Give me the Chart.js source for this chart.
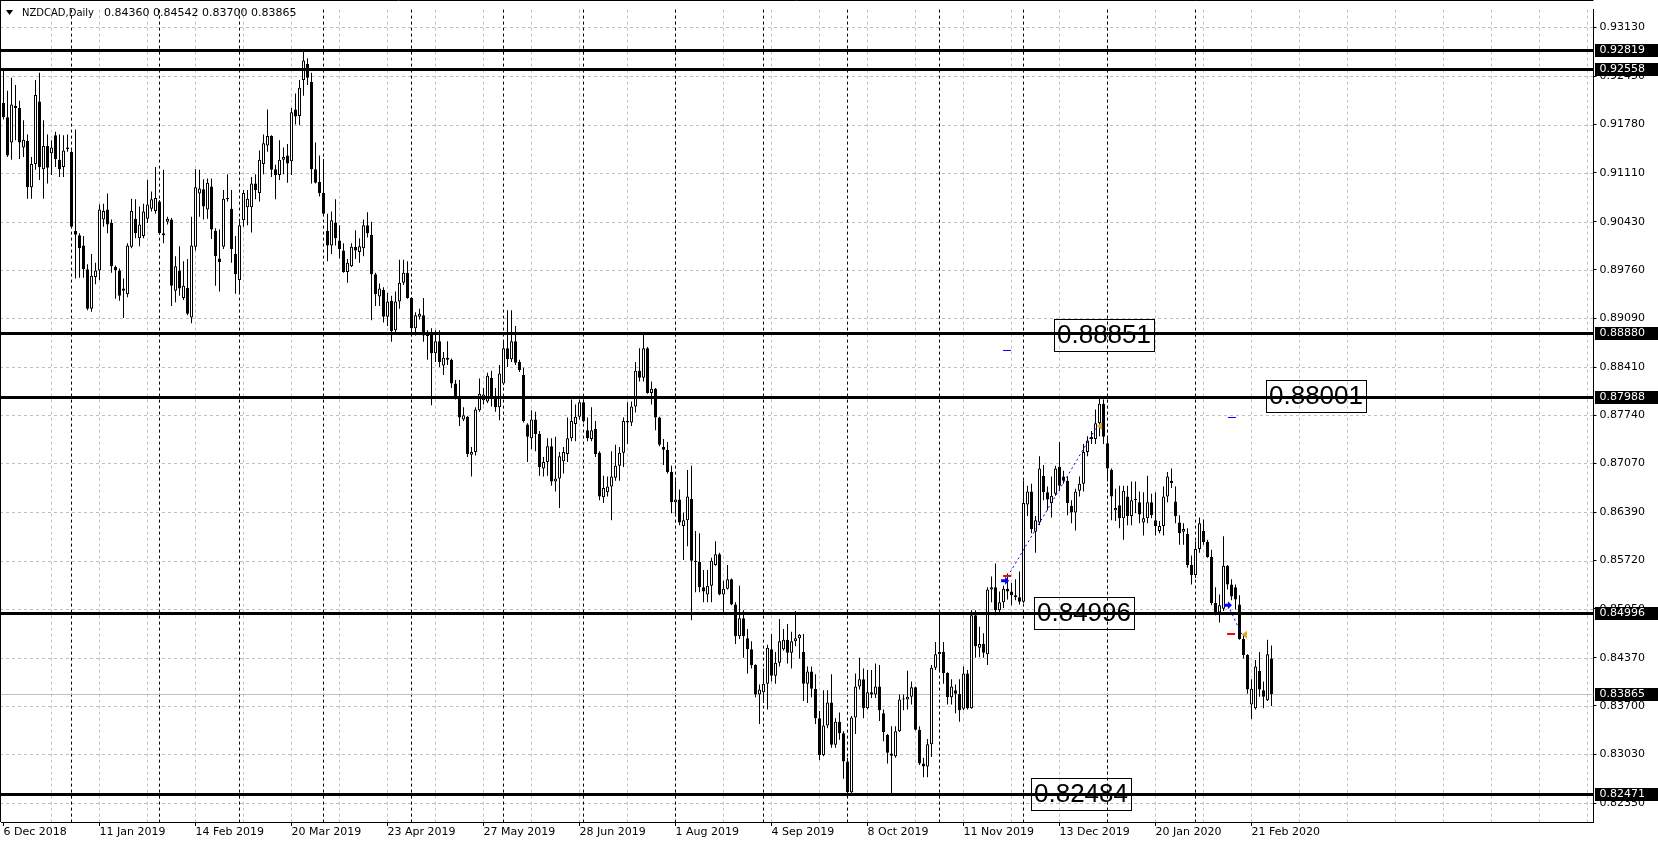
<!DOCTYPE html>
<html>
<head>
<meta charset="utf-8">
<title>NZDCAD,Daily</title>
<script src="https://cdn.jsdelivr.net/npm/chart.js@4.4.0/dist/chart.umd.min.js"></script>
<style>
  html, body { margin: 0; padding: 0; background: #fff; }
  #wrap { width: 1658px; height: 846px; }
</style>
</head>
<body>
<div id="wrap"><canvas id="chart" width="1658" height="846"></canvas></div>
<script>
// ---------- daily candles, 6 Dec 2018 .. 28 Feb 2020 ----------
const open = [
  0.9208, 0.9188, 0.9153, 0.9204, 0.9201, 0.9146, 0.9155, 0.9091, 0.9123, 0.9210,
  0.9116, 0.9148, 0.9138, 0.9163, 0.9129, 0.9119, 0.9146, 0.9140, 0.9030, 0.9024,
  0.9010, 0.8977, 0.8922, 0.8966, 0.8975, 0.9046, 0.9060, 0.9041, 0.8980, 0.8975,
  0.8950, 0.8942, 0.9008, 0.9047, 0.9020, 0.9023, 0.9047, 0.9061, 0.9058, 0.9071,
  0.9027, 0.9043, 0.9046, 0.8947, 0.8975, 0.8937, 0.8951, 0.8910, 0.9008, 0.9082,
  0.9088, 0.9060, 0.9092, 0.9030, 0.8992, 0.9008, 0.9074, 0.9061, 0.8998, 0.8962,
  0.9045, 0.9063, 0.9063, 0.9096, 0.9083, 0.9123, 0.9149, 0.9162, 0.9116, 0.9108,
  0.9129, 0.9135, 0.9127, 0.9199, 0.9190, 0.9240, 0.9262, 0.9237, 0.9116, 0.9098,
  0.9083, 0.9030, 0.9010, 0.9042, 0.9017, 0.9003, 0.8973, 0.8981, 0.9008, 0.9001,
  0.9006, 0.9038, 0.9025, 0.8970, 0.8939, 0.8948, 0.8911, 0.8933, 0.8892, 0.8932,
  0.8958, 0.8972, 0.8937, 0.8895, 0.8911, 0.8913, 0.8885, 0.8887, 0.8860, 0.8877,
  0.8843, 0.8854, 0.8851, 0.8818, 0.8798, 0.8768, 0.8772, 0.8719, 0.8723, 0.8781,
  0.8795, 0.8793, 0.8826, 0.8801, 0.8785, 0.8818, 0.8867, 0.8852, 0.8877, 0.8848,
  0.8830, 0.8761, 0.8742, 0.8768, 0.8748, 0.8700, 0.8709, 0.8731, 0.8682, 0.8686,
  0.8710, 0.8720, 0.8742, 0.8762, 0.8772, 0.8792, 0.8753, 0.8741, 0.8755, 0.8722,
  0.8660, 0.8667, 0.8675, 0.8687, 0.8704, 0.8722, 0.8766, 0.8764, 0.8786, 0.8836,
  0.8826, 0.8867, 0.8805, 0.8811, 0.8771, 0.8730, 0.8726, 0.8695, 0.8653, 0.8657,
  0.8620, 0.8628, 0.8658, 0.8572, 0.8570, 0.8535, 0.8525, 0.8537, 0.8566, 0.8581,
  0.8525, 0.8533, 0.8546, 0.8511, 0.8467, 0.8492, 0.8464, 0.8449, 0.8427, 0.8386,
  0.8389, 0.8401, 0.8449, 0.8412, 0.8430, 0.8449, 0.8462, 0.8444, 0.8460, 0.8464,
  0.8445, 0.8401, 0.8418, 0.8394, 0.8353, 0.8302, 0.8343, 0.8375, 0.8316, 0.8348,
  0.8332, 0.8293, 0.8250, 0.8354, 0.8397, 0.8407, 0.8367, 0.8389, 0.8386, 0.8397,
  0.8360, 0.8330, 0.8304, 0.8300, 0.8335, 0.8379, 0.8379, 0.8383, 0.8396, 0.8337,
  0.8290, 0.8286, 0.8317, 0.8423, 0.8442, 0.8445, 0.8416, 0.8382, 0.8392, 0.8387,
  0.8366, 0.8415, 0.8367, 0.8496, 0.8451, 0.8456, 0.8442, 0.8532, 0.8535, 0.8503,
  0.8514, 0.8533, 0.8529, 0.8524, 0.8521, 0.8515, 0.8650, 0.8668, 0.8612, 0.8625,
  0.8690, 0.8667, 0.8652, 0.8665, 0.8702, 0.8689, 0.8683, 0.8648, 0.8639, 0.8669,
  0.8679, 0.8723, 0.8744, 0.8741, 0.8763, 0.8790, 0.8735, 0.8698, 0.8642, 0.8649,
  0.8631, 0.8661, 0.8634, 0.8658, 0.8653, 0.8625, 0.8631, 0.8653, 0.8628, 0.8613,
  0.8620, 0.8661, 0.8683, 0.8654, 0.8625, 0.8612, 0.8609, 0.8566, 0.8552, 0.8588,
  0.8613, 0.8598, 0.8577, 0.8513, 0.8500, 0.8505, 0.8565, 0.8539, 0.8535, 0.8511,
  0.8463, 0.8441, 0.8372, 0.8367, 0.8419, 0.8392, 0.8378, 0.84360
];
const high = [
  0.9256, 0.9225, 0.9243, 0.9233, 0.9211, 0.9184, 0.9164, 0.9133, 0.9240, 0.9250,
  0.9184, 0.9164, 0.9156, 0.9168, 0.9164, 0.9163, 0.9164, 0.9142, 0.9171, 0.9027,
  0.9023, 0.8984, 0.8998, 0.8986, 0.9067, 0.9068, 0.9082, 0.9046, 0.8982, 0.8978,
  0.8964, 0.9013, 0.9075, 0.9074, 0.9064, 0.9068, 0.9101, 0.9085, 0.9119, 0.9073,
  0.9115, 0.9050, 0.9048, 0.8995, 0.9009, 0.8988, 0.8991, 0.9050, 0.9116, 0.9115,
  0.9102, 0.9103, 0.9103, 0.9034, 0.9032, 0.9087, 0.9109, 0.9087, 0.9023, 0.9047,
  0.9087, 0.9087, 0.9105, 0.9109, 0.9142, 0.9164, 0.9199, 0.9163, 0.9122, 0.9156,
  0.9146, 0.9151, 0.9201, 0.9221, 0.9240, 0.9282, 0.9270, 0.9250, 0.9153, 0.9135,
  0.9130, 0.9054, 0.9057, 0.9074, 0.9038, 0.9013, 0.8991, 0.9013, 0.9031, 0.9020,
  0.9046, 0.9056, 0.9043, 0.8972, 0.8957, 0.8952, 0.8944, 0.8940, 0.8946, 0.8990,
  0.8990, 0.8988, 0.8938, 0.8917, 0.8922, 0.8937, 0.8892, 0.8895, 0.8892, 0.8892,
  0.8862, 0.8877, 0.8853, 0.8823, 0.8823, 0.8785, 0.8773, 0.8730, 0.8785, 0.8825,
  0.8812, 0.8833, 0.8836, 0.8812, 0.8844, 0.8878, 0.8920, 0.8920, 0.8898, 0.8851,
  0.8840, 0.8763, 0.8781, 0.8779, 0.8752, 0.8716, 0.8742, 0.8742, 0.8744, 0.8723,
  0.8730, 0.8771, 0.8796, 0.8789, 0.8796, 0.8796, 0.8771, 0.8785, 0.8766, 0.8724,
  0.8690, 0.8689, 0.8724, 0.8733, 0.8730, 0.8771, 0.8792, 0.8793, 0.8848, 0.8867,
  0.8888, 0.8869, 0.8821, 0.8812, 0.8772, 0.8741, 0.8737, 0.8704, 0.8683, 0.8671,
  0.8639, 0.8698, 0.8704, 0.8613, 0.8610, 0.8559, 0.8559, 0.8576, 0.8599, 0.8583,
  0.8544, 0.8566, 0.8547, 0.8514, 0.8537, 0.8503, 0.8477, 0.8460, 0.8428, 0.8400,
  0.8422, 0.8455, 0.8470, 0.8445, 0.8491, 0.8477, 0.8484, 0.8473, 0.8502, 0.8470,
  0.8470, 0.8425, 0.8425, 0.8414, 0.8363, 0.8392, 0.8392, 0.8414, 0.8353, 0.8361,
  0.8335, 0.8298, 0.8356, 0.8415, 0.8437, 0.8422, 0.8420, 0.8420, 0.8429, 0.8427,
  0.8365, 0.8331, 0.8342, 0.8342, 0.8386, 0.8386, 0.8419, 0.8404, 0.8397, 0.8342,
  0.8298, 0.8324, 0.8427, 0.8459, 0.8497, 0.8459, 0.8417, 0.8407, 0.8400, 0.8407,
  0.8425, 0.8420, 0.8503, 0.8503, 0.8480, 0.8471, 0.8535, 0.8550, 0.8568, 0.8529,
  0.8537, 0.8554, 0.8541, 0.8546, 0.8557, 0.8683, 0.8676, 0.8679, 0.8634, 0.8717,
  0.8705, 0.8675, 0.8689, 0.8704, 0.8737, 0.8697, 0.8689, 0.8656, 0.8672, 0.8689,
  0.8734, 0.8745, 0.8752, 0.8782, 0.8799, 0.8796, 0.8745, 0.8700, 0.8672, 0.8676,
  0.8676, 0.8676, 0.8682, 0.8682, 0.8668, 0.8667, 0.8690, 0.8665, 0.8667, 0.8627,
  0.8675, 0.8695, 0.8700, 0.8675, 0.8635, 0.8624, 0.8617, 0.8579, 0.8599, 0.8632,
  0.8629, 0.8601, 0.8587, 0.8535, 0.8525, 0.8606, 0.8566, 0.8546, 0.8539, 0.8524,
  0.8470, 0.8442, 0.8407, 0.8434, 0.8445, 0.8404, 0.8462, 0.84542
];
const low = [
  0.9185, 0.9133, 0.9129, 0.9156, 0.9130, 0.9133, 0.9075, 0.9075, 0.9115, 0.9101,
  0.9075, 0.9096, 0.9108, 0.9119, 0.9105, 0.9105, 0.9140, 0.9034, 0.8964, 0.8965,
  0.8965, 0.8920, 0.8918, 0.8956, 0.8962, 0.9036, 0.9027, 0.8972, 0.8936, 0.8933,
  0.8909, 0.8938, 0.9006, 0.9020, 0.9009, 0.9020, 0.9041, 0.9057, 0.9054, 0.9025,
  0.9013, 0.9039, 0.8926, 0.8931, 0.8940, 0.8934, 0.8913, 0.8902, 0.9003, 0.9050,
  0.9046, 0.9047, 0.9019, 0.8954, 0.8946, 0.9005, 0.9071, 0.8986, 0.8943, 0.8944,
  0.9036, 0.9038, 0.9028, 0.9074, 0.9071, 0.9109, 0.9140, 0.9105, 0.9074, 0.9101,
  0.9109, 0.9097, 0.9108, 0.9178, 0.9177, 0.9218, 0.9233, 0.9096, 0.9096, 0.9078,
  0.9053, 0.8988, 0.8998, 0.9010, 0.8992, 0.8972, 0.8958, 0.8980, 0.8991, 0.8986,
  0.8995, 0.9021, 0.8906, 0.8926, 0.8926, 0.8903, 0.8898, 0.8876, 0.8887, 0.8922,
  0.8955, 0.8936, 0.8885, 0.8885, 0.8907, 0.8876, 0.8851, 0.8788, 0.8848, 0.8841,
  0.8830, 0.8844, 0.8812, 0.8796, 0.8759, 0.8766, 0.8716, 0.8689, 0.8718, 0.8779,
  0.8789, 0.8791, 0.8786, 0.8779, 0.8767, 0.8816, 0.8841, 0.8848, 0.8844, 0.8834,
  0.8764, 0.8709, 0.8727, 0.8724, 0.8690, 0.8689, 0.8690, 0.8676, 0.8668, 0.8645,
  0.8693, 0.8709, 0.8738, 0.8738, 0.8768, 0.8764, 0.8738, 0.8738, 0.8716, 0.8656,
  0.8652, 0.8661, 0.8628, 0.8683, 0.8683, 0.8702, 0.8734, 0.8759, 0.8778, 0.8821,
  0.8821, 0.8804, 0.8789, 0.8753, 0.8731, 0.8705, 0.8693, 0.8638, 0.8634, 0.8621,
  0.8573, 0.8592, 0.8489, 0.8528, 0.8528, 0.8514, 0.8514, 0.8514, 0.8565, 0.8524,
  0.8497, 0.8532, 0.8510, 0.8456, 0.8463, 0.8437, 0.8415, 0.8422, 0.8382, 0.8345,
  0.8374, 0.8365, 0.8404, 0.8401, 0.8425, 0.8447, 0.8429, 0.8422, 0.8453, 0.8436,
  0.8377, 0.8374, 0.8382, 0.8345, 0.8295, 0.8300, 0.8339, 0.8312, 0.8312, 0.8323,
  0.8269, 0.8245, 0.8246, 0.8331, 0.8393, 0.8353, 0.8365, 0.8381, 0.8381, 0.8349,
  0.8321, 0.8290, 0.8246, 0.8298, 0.8334, 0.8364, 0.8365, 0.8372, 0.8336, 0.8288,
  0.8271, 0.8271, 0.8299, 0.8420, 0.8420, 0.8401, 0.8372, 0.8372, 0.8360, 0.8348,
  0.8364, 0.8365, 0.8366, 0.8437, 0.8438, 0.8437, 0.8427, 0.8514, 0.8496, 0.8500,
  0.8506, 0.8518, 0.8510, 0.8517, 0.8511, 0.8513, 0.8634, 0.8610, 0.8583, 0.8621,
  0.8656, 0.8642, 0.8632, 0.8662, 0.8669, 0.8679, 0.8635, 0.8624, 0.8614, 0.8661,
  0.8668, 0.8717, 0.8734, 0.8734, 0.8745, 0.8734, 0.8682, 0.8628, 0.8627, 0.8617,
  0.8601, 0.8621, 0.8621, 0.8638, 0.8624, 0.8607, 0.8624, 0.8631, 0.8607, 0.8610,
  0.8607, 0.8653, 0.8673, 0.8624, 0.8594, 0.8594, 0.8562, 0.8539, 0.8548, 0.8583,
  0.8594, 0.8576, 0.8510, 0.8496, 0.8486, 0.8502, 0.8532, 0.8517, 0.8504, 0.8462,
  0.8436, 0.8387, 0.8352, 0.8365, 0.8383, 0.8367, 0.8377, 0.83700
];
const close = [
  0.9188, 0.9135, 0.9206, 0.9201, 0.9153, 0.9157, 0.9091, 0.9123, 0.9219, 0.9119,
  0.9148, 0.9118, 0.9146, 0.9130, 0.9116, 0.9142, 0.9144, 0.9036, 0.9025, 0.9006,
  0.8977, 0.8922, 0.8968, 0.8975, 0.9060, 0.9058, 0.9039, 0.8981, 0.8976, 0.8940,
  0.8947, 0.9010, 0.9058, 0.9027, 0.9039, 0.9057, 0.9067, 0.9074, 0.9076, 0.9027,
  0.9024, 0.9047, 0.8954, 0.8981, 0.8950, 0.8954, 0.8915, 0.9010, 0.9091, 0.9089,
  0.9064, 0.9097, 0.9032, 0.8995, 0.8987, 0.9075, 0.9076, 0.9005, 0.8970, 0.9038,
  0.9083, 0.9075, 0.9096, 0.9087, 0.9129, 0.9152, 0.9162, 0.9115, 0.9108, 0.9129,
  0.9133, 0.9124, 0.9195, 0.9189, 0.9229, 0.9267, 0.9243, 0.9116, 0.9097, 0.9083,
  0.9054, 0.9010, 0.9045, 0.9020, 0.9005, 0.8973, 0.8986, 0.9008, 0.9003, 0.9009,
  0.9038, 0.9027, 0.8970, 0.8942, 0.8950, 0.8911, 0.8932, 0.8891, 0.8932, 0.8958,
  0.8972, 0.8937, 0.8895, 0.8913, 0.8915, 0.8885, 0.8884, 0.8860, 0.8877, 0.8848,
  0.8854, 0.8851, 0.8818, 0.8800, 0.8771, 0.8774, 0.8720, 0.8723, 0.8782, 0.8804,
  0.8803, 0.8829, 0.8799, 0.8785, 0.8832, 0.8867, 0.8852, 0.8877, 0.8847, 0.8837,
  0.8766, 0.8744, 0.8768, 0.8748, 0.8702, 0.8709, 0.8731, 0.8682, 0.8686, 0.8717,
  0.8723, 0.8742, 0.8766, 0.8772, 0.8792, 0.8766, 0.8742, 0.8753, 0.8720, 0.8661,
  0.8673, 0.8675, 0.8689, 0.8704, 0.8722, 0.8766, 0.8764, 0.8786, 0.8836, 0.8826,
  0.8867, 0.8805, 0.8811, 0.8771, 0.8733, 0.8726, 0.8695, 0.8653, 0.8657, 0.8625,
  0.8628, 0.8661, 0.8572, 0.8570, 0.8535, 0.8529, 0.8537, 0.8572, 0.8581, 0.8525,
  0.8533, 0.8546, 0.8511, 0.8467, 0.8492, 0.8467, 0.8449, 0.8427, 0.8386, 0.8393,
  0.8401, 0.8451, 0.8412, 0.8430, 0.8460, 0.8462, 0.8444, 0.8460, 0.8464, 0.8469,
  0.8401, 0.8418, 0.8394, 0.8353, 0.8302, 0.8343, 0.8375, 0.8316, 0.8348, 0.8332,
  0.8293, 0.8250, 0.8354, 0.8397, 0.8407, 0.8367, 0.8389, 0.8386, 0.8397, 0.8364,
  0.8334, 0.8305, 0.8301, 0.8335, 0.8379, 0.8380, 0.8383, 0.8396, 0.8337, 0.8290,
  0.8286, 0.8317, 0.8423, 0.8442, 0.8445, 0.8416, 0.8382, 0.8397, 0.8387, 0.8364,
  0.8415, 0.8367, 0.8496, 0.8453, 0.8456, 0.8444, 0.8532, 0.8535, 0.8503, 0.8514,
  0.8533, 0.8529, 0.8524, 0.8521, 0.8515, 0.8652, 0.8668, 0.8616, 0.8628, 0.8700,
  0.8667, 0.8657, 0.8662, 0.8700, 0.8676, 0.8683, 0.8652, 0.8639, 0.8668, 0.8679,
  0.8723, 0.8739, 0.8741, 0.8763, 0.8790, 0.8744, 0.8700, 0.8661, 0.8645, 0.8631,
  0.8669, 0.8634, 0.8656, 0.8656, 0.8636, 0.8631, 0.8653, 0.8635, 0.8620, 0.8620,
  0.8661, 0.8689, 0.8680, 0.8634, 0.8610, 0.8616, 0.8566, 0.8552, 0.8588, 0.8624,
  0.8598, 0.8577, 0.8513, 0.8500, 0.8510, 0.8565, 0.8539, 0.8522, 0.8518, 0.8463,
  0.8441, 0.8393, 0.8394, 0.8425, 0.8393, 0.8383, 0.8442, 0.83865
];

// ---------- axes ----------
const dateTickIdx = [0, 24, 48, 72, 96, 120, 144, 168, 192, 216, 240, 264, 288, 312];
const dateTickText = [
  "6 Dec 2018", "11 Jan 2019", "14 Feb 2019", "20 Mar 2019", "23 Apr 2019",
  "27 May 2019", "28 Jun 2019", "1 Aug 2019", "4 Sep 2019", "8 Oct 2019",
  "11 Nov 2019", "13 Dec 2019", "20 Jan 2020", "21 Feb 2020"
];
const monthStartIdx = [17, 39, 59, 80, 102, 125, 145, 168, 190, 211, 234, 255, 276, 298];
const priceTicks = [
  0.82350, 0.83030, 0.83700, 0.84370, 0.85050, 0.85720, 0.86390, 0.87070, 0.87740,
  0.88410, 0.89090, 0.89760, 0.90430, 0.91110, 0.91780, 0.92450, 0.93130
];
const Y_MIN = 0.82088;
const Y_MAX = 0.93377;
const SLOTS = 398; // bar slots across the window (chart shift on the right)

// ---------- objects on the chart ----------
const levelPrices = [0.92819, 0.92558, 0.88880, 0.87988, 0.84996, 0.82471];
const bidPrice = 0.83865;
const noteText = ["0.88851", "0.88001", "0.84996", "0.82484"];
const noteBar = [262.5, 315.5, 257.5, 256.75];
const notePrice = [0.88851, 0.88001, 0.84996, 0.82484];

const tradeOpenBar = [250.4, 306.1];
const tradeOpenPrice = [0.8544, 0.8510];
const tradeCloseBar = [273.4, 309.6];
const tradeClosePrice = [0.8759, 0.8469];
const stopBar = [250.9, 306.9];
const stopPrice = [0.8550, 0.8470];
const targetBar = [250.9, 307.1];
const targetPrice = [0.8865, 0.8771];

const FONT = '"DejaVu Sans", sans-serif';
Chart.defaults.font.family = FONT;
Chart.defaults.font.size = 11;
Chart.defaults.color = "#000";

const slotLabels = Array.from({ length: SLOTS }, (_, i) => i);
const tickTextAt = {};
dateTickIdx.forEach((idx, k) => { tickTextAt[idx] = dateTickText[k]; });
const bodyColor = open.map((o, i) => (close[i] >= o ? "#ffffff" : "#000000"));

function hLine(ctx, x0, x1, py) {
  ctx.beginPath(); ctx.moveTo(x0, py); ctx.lineTo(x1, py); ctx.stroke();
}
function vLine(ctx, px, y0, y1) {
  ctx.beginPath(); ctx.moveTo(px, y0); ctx.lineTo(px, y1); ctx.stroke();
}

// ---------- MT4 look: grid, separators, levels, labels ----------
const mt4Plugin = {
  id: "mt4",
  beforeDraw(chart) {
    const { ctx, width, height } = chart;
    ctx.save();
    ctx.fillStyle = "#fff";
    ctx.fillRect(0, 0, width, height);
    ctx.restore();
  },
  beforeDatasetsDraw(chart) {
    const { ctx, chartArea: a, scales: { x, y } } = chart;
    ctx.save();
    ctx.lineWidth = 1;
    ctx.setLineDash([3, 3]);
    ctx.strokeStyle = "#c0c0c0";
    priceTicks.forEach((p) => hLine(ctx, 0, a.right, Math.round(y.getPixelForValue(p)) + 0.5));
    for (let i = 12; i < SLOTS; i += 12) {
      vLine(ctx, Math.floor(x.getPixelForValue(i)) + 0.5, a.top, a.bottom);
    }
    ctx.strokeStyle = "#000";
    monthStartIdx.forEach((i) => vLine(ctx, Math.floor(x.getPixelForValue(i)) + 0.5, a.top, a.bottom));
    ctx.setLineDash([]);
    ctx.strokeStyle = "#c0c0c0";
    hLine(ctx, 0, a.right, Math.round(y.getPixelForValue(bidPrice)) + 0.5);
    ctx.restore();
  },
  afterDatasetsDraw(chart) {
    const { ctx, chartArea: a, scales: { x, y } } = chart;
    ctx.save();
    // horizontal levels
    ctx.strokeStyle = "#000";
    ctx.lineWidth = 3;
    levelPrices.forEach((p) => hLine(ctx, 0, a.right, Math.round(y.getPixelForValue(p)) + 0.5));

    // text notes
    ctx.font = '26px "Liberation Sans", Arial, sans-serif';
    ctx.textBaseline = "middle";
    ctx.lineWidth = 1;
    noteText.forEach((t, k) => {
      const left = Math.round(x.getPixelForValue(noteBar[k]));
      const cy = Math.round(y.getPixelForValue(notePrice[k]));
      const w = Math.ceil(ctx.measureText(t).width) + 6;
      ctx.strokeStyle = "#000";
      ctx.strokeRect(left + 0.5, cy - 16 + 0.5, w, 32);
      ctx.fillStyle = "#000";
      ctx.fillText(t, left + 3, cy + 1);
    });

    // trades
    ctx.lineWidth = 1;
    ctx.strokeStyle = "#0000ff";
    ctx.setLineDash([2, 3]);
    tradeOpenBar.forEach((b, k) => {
      ctx.beginPath();
      ctx.moveTo(x.getPixelForValue(b), y.getPixelForValue(tradeOpenPrice[k]));
      ctx.lineTo(x.getPixelForValue(tradeCloseBar[k]), y.getPixelForValue(tradeClosePrice[k]));
      ctx.stroke();
    });
    ctx.setLineDash([]);
    targetBar.forEach((b, k) => {
      const px = x.getPixelForValue(b), py = Math.round(y.getPixelForValue(targetPrice[k])) + 0.5;
      hLine(ctx, px - 4, px + 4, py);
    });
    ctx.strokeStyle = "#ff0000";
    ctx.lineWidth = 2;
    stopBar.forEach((b, k) => {
      const px = x.getPixelForValue(b), py = Math.round(y.getPixelForValue(stopPrice[k]));
      hLine(ctx, px - 4, px + 4, py);
    });
    ctx.fillStyle = "#0000ff";
    tradeOpenBar.forEach((b, k) => {
      const px = x.getPixelForValue(b), py = y.getPixelForValue(tradeOpenPrice[k]);
      ctx.beginPath();
      ctx.moveTo(px - 4, py - 1.5); ctx.lineTo(px, py - 1.5); ctx.lineTo(px, py - 4);
      ctx.lineTo(px + 4, py); ctx.lineTo(px, py + 4); ctx.lineTo(px, py + 1.5);
      ctx.lineTo(px - 4, py + 1.5); ctx.closePath(); ctx.fill();
    });
    ctx.fillStyle = "#daa520";
    tradeCloseBar.forEach((b, k) => {
      const px = x.getPixelForValue(b), py = y.getPixelForValue(tradeClosePrice[k]);
      ctx.beginPath();
      ctx.moveTo(px, py); ctx.lineTo(px + 5, py - 4); ctx.lineTo(px + 5, py + 4);
      ctx.closePath(); ctx.fill();
    });
    ctx.restore();
  },
  afterDraw(chart) {
    const { ctx, chartArea: a, scales: { y } } = chart;
    ctx.save();
    // price boxes on the axis
    ctx.font = "11px " + FONT;
    ctx.textBaseline = "middle";
    const boxLeft = Math.ceil(a.right) + 1;
    levelPrices.concat([bidPrice]).forEach((p) => {
      const py = Math.round(y.getPixelForValue(p));
      ctx.fillStyle = "#000";
      ctx.fillRect(boxLeft, py - 6, chart.width - boxLeft, 13);
      ctx.fillStyle = "#fff";
      ctx.fillText(p.toFixed(5), a.right + 6, py + 0.5);
    });
    // window frame
    ctx.strokeStyle = "#000";
    ctx.lineWidth = 1;
    vLine(ctx, 0.5, 0, a.bottom);
    hLine(ctx, 0, a.right, 0.5);
    // header
    ctx.fillStyle = "#000";
    ctx.beginPath();
    ctx.moveTo(6, 10); ctx.lineTo(13, 10); ctx.lineTo(9.5, 15); ctx.closePath(); ctx.fill();
    ctx.font = "10px " + FONT;
    ctx.fillText("NZDCAD,Daily", 22, 13);
    ctx.font = "11px " + FONT;
    const last = open.length - 1;
    ctx.fillText([open[last], high[last], low[last], close[last]].map((v) => v.toFixed(5)).join(" "), 104, 13);
    ctx.restore();
  }
};

new Chart(document.getElementById("chart"), {
  type: "bar",
  data: {
    labels: slotLabels,
    datasets: [
      {
        label: "body",
        data: open.map((o, i) => [o, close[i]]),
        backgroundColor: bodyColor,
        borderColor: "#000",
        borderWidth: 1,
        borderSkipped: false,
        barThickness: 3,
        grouped: false,
        inflateAmount: 0,
        minBarLength: 1,
        order: 0
      },
      {
        label: "wick",
        data: low.map((l, i) => [l, high[i]]),
        backgroundColor: "#000",
        borderWidth: 0,
        barThickness: 1,
        grouped: false,
        inflateAmount: 0,
        order: 1
      }
    ]
  },
  options: {
    responsive: false,
    animation: false,
    devicePixelRatio: 1,
    events: [],
    layout: { padding: { left: 1.5, top: 1, right: 0, bottom: 0 } },
    plugins: { legend: { display: false }, tooltip: { enabled: false } },
    scales: {
      x: {
        offset: true,
        grid: { drawOnChartArea: false, drawTicks: true, tickLength: 4, tickColor: "#000", offset: false },
        border: { display: true, color: "#000" },
        ticks: {
          autoSkip: false, maxRotation: 0, minRotation: 0, align: "start", padding: 0, color: "#000",
          callback: (v) => tickTextAt[v] ?? ""
        },
        afterBuildTicks: (s) => { s.ticks = dateTickIdx.map((v) => ({ value: v })); },
        afterFit: (s) => { s.height = 24; }
      },
      y: {
        position: "right",
        min: Y_MIN,
        max: Y_MAX,
        grid: { drawOnChartArea: false, drawTicks: true, tickLength: 3, tickColor: "#000" },
        border: { display: true, color: "#000" },
        ticks: { padding: 3, color: "#000", callback: (v) => Number(v).toFixed(5) },
        afterBuildTicks: (s) => { s.ticks = priceTicks.map((v) => ({ value: v })); },
        afterFit: (s) => { s.width = 64.5; }
      }
    }
  },
  plugins: [mt4Plugin]
});
</script>
</body>
</html>
